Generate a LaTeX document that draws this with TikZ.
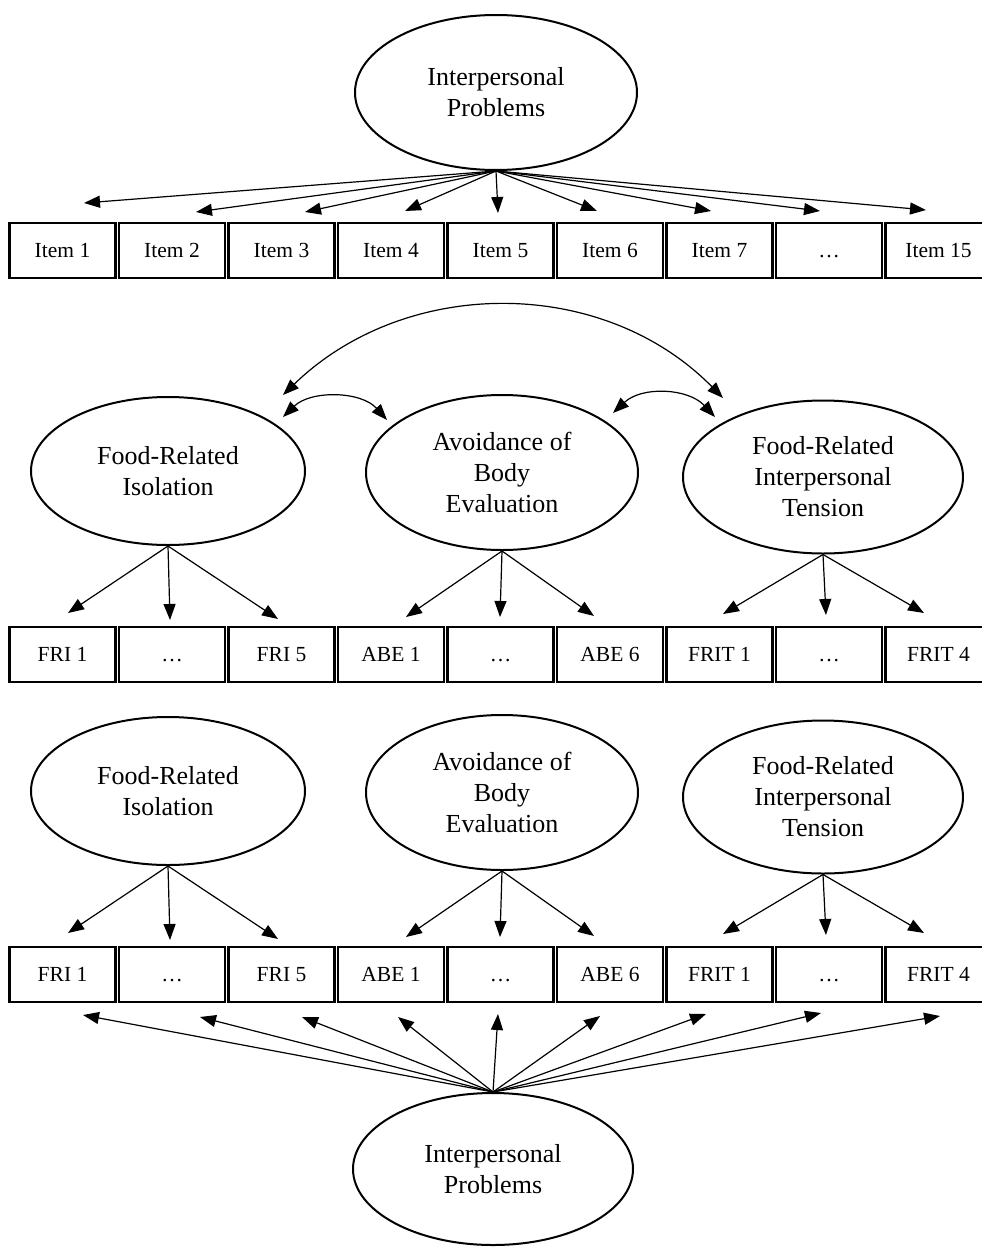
\documentclass[tikz,border=0pt]{standalone}
\usepackage{fontspec}
\setmainfont{Liberation Serif}
\usetikzlibrary{shapes.geometric,arrows.meta}
\begin{document}
\begin{tikzpicture}[x=1pt,y=-1pt,
  latent/.style={ellipse,draw,line width=2pt,inner sep=0pt,align=center,font=\fontsize{26}{31}\selectfont},
  obs/.style={rectangle,draw,line width=2.2pt,minimum width=106pt,minimum height=55pt,inner sep=0pt,text height=18pt,text depth=4pt,font=\fontsize{21.5}{26}\selectfont},
  arr/.style={-{Triangle[length=16pt,width=12pt]},line width=1.2pt},
  cov/.style={{Triangle[length=16pt,width=12pt]}-{Triangle[length=16pt,width=12pt]},line width=1.2pt}]
\useasboundingbox (0,0) rectangle (982,1247);

% ---------- Model 1 ----------
\node[latent,minimum width=282pt,minimum height=155pt] (ip1) at (496,92.5) {Interpersonal\\Problems};
\foreach \n/\x/\t in {1/62.5/Item 1,2/172/Item 2,3/281.5/Item 3,4/391/Item 4,5/500.5/Item 5,6/610/Item 6,7/719.5/Item 7,8/829/…,9/938.5/Item 15}
  \node[obs] (i\n) at (\x,250.5) {\t};
\foreach \n/\x/\y in {1/84/203,2/196/212,3/305/212,4/405/211,5/498/213,6/597/211,7/711/211,8/820/211,9/926/210}{
  \coordinate (a\n) at (\x,\y);
  \draw[arr] (ip1.south) -- (a\n);
}

% ---------- Model 2 ----------
\node[latent,minimum width=274pt,minimum height=148pt] (fri) at (168,471) {Food-Related\\Isolation};
\node[latent,minimum width=272pt,minimum height=155pt] (abe) at (502,472.5) {Avoidance of\\Body\\Evaluation};
\node[latent,minimum width=280pt,minimum height=153pt] (frit) at (823,477) {Food-Related\\Interpersonal\\Tension};
\foreach \n/\x/\t in {1/62.5/FRI 1,2/172/…,3/281.5/FRI 5,4/391/ABE 1,5/500.5/…,6/610/ABE 6,7/719.5/FRIT 1,8/829/…,9/938.5/FRIT 4}
  \node[obs] (m\n) at (\x,654.5) {\t};
\foreach \n/\x/\y in {1/68/613,2/170/620,3/278/619}{
  \coordinate (f\n) at (\x,\y); \draw[arr] (fri.south) -- (f\n);}
\foreach \n/\x/\y in {1/406/617,2/500/617,3/594/616}{
  \coordinate (b\n) at (\x,\y); \draw[arr] (abe.south) -- (b\n);}
\foreach \n/\x/\y in {1/723/614,2/826/615,3/924/613}{
  \coordinate (t\n) at (\x,\y); \draw[arr] (frit.south) -- (t\n);}
% covariances
\coordinate (c1a) at (283,395); \coordinate (c1b) at (723,398);
\draw[cov] (c1a) .. controls (406,276) and (603,276) .. (c1b);
\coordinate (c2a) at (283,417); \coordinate (c2b) at (387,420);
\draw[cov] (c2a) .. controls (311,390) and (361,391) .. (c2b);
\coordinate (c3a) at (613,413); \coordinate (c3b) at (715,417);
\draw[cov] (c3a) .. controls (642,386) and (688,388) .. (c3b);

% ---------- Model 3 ----------
\node[latent,minimum width=274pt,minimum height=148pt] (fri3) at (168,791) {Food-Related\\Isolation};
\node[latent,minimum width=272pt,minimum height=155pt] (abe3) at (502,792.5) {Avoidance of\\Body\\Evaluation};
\node[latent,minimum width=280pt,minimum height=153pt] (frit3) at (823,797) {Food-Related\\Interpersonal\\Tension};
\foreach \n/\x/\t in {1/62.5/FRI 1,2/172/…,3/281.5/FRI 5,4/391/ABE 1,5/500.5/…,6/610/ABE 6,7/719.5/FRIT 1,8/829/…,9/938.5/FRIT 4}
  \node[obs] (l\n) at (\x,974.5) {\t};
\foreach \n/\x/\y in {1/68/933,2/170/940,3/278/939}{
  \coordinate (g\n) at (\x,\y); \draw[arr] (fri3.south) -- (g\n);}
\foreach \n/\x/\y in {1/406/937,2/500/937,3/594/936}{
  \coordinate (h\n) at (\x,\y); \draw[arr] (abe3.south) -- (h\n);}
\foreach \n/\x/\y in {1/723/934,2/826/935,3/924/933}{
  \coordinate (k\n) at (\x,\y); \draw[arr] (frit3.south) -- (k\n);}

\node[latent,minimum width=280pt,minimum height=152pt] (ip2) at (493,1169) {Interpersonal\\Problems};
\foreach \n/\x/\y in {1/83/1015,2/200/1017,3/302/1017,4/398/1017,5/498/1014,6/600/1016,7/706/1014,8/821/1013,9/940/1016}{
  \coordinate (p\n) at (\x,\y);
  \draw[arr] (ip2.north) -- (p\n);
}
\end{tikzpicture}
\end{document}
